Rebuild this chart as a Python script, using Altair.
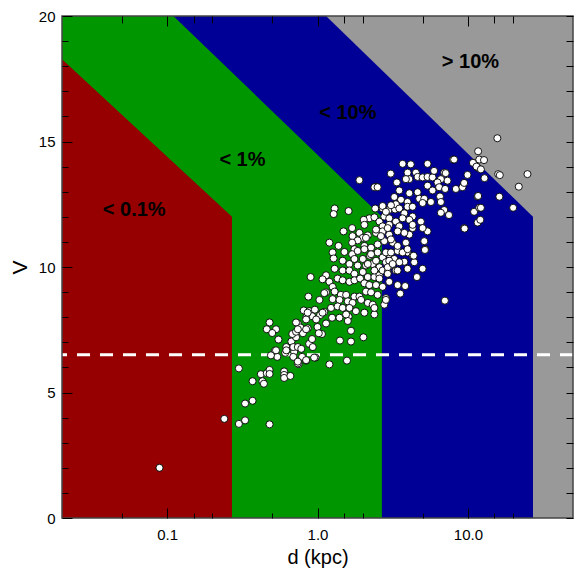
import altair as alt
import pandas as pd

# ---- axis domains / ticks ----
x_domain = [0.02, 50]
y_domain = [0, 20]
x_ticks = [0.05, 0.1, 0.15, 0.2, 0.5, 1, 1.5, 2, 5, 10, 15, 20]
y_ticks = list(range(0, 21))

# ---- region boundaries (upper edge, filled down to V=0) ----
gray_d = [0.02, 50]
gray_v = [20, 20]
blue_d = [0.02, 1.14, 27.1]
blue_v = [20, 20, 12]
green_d = [0.02, 0.11, 2.68]
green_v = [20, 20, 12]
red_d = [0.02, 0.27]
red_v = [18.28, 12]

# ---- region labels ----
label_text = ["< 0.1%", "< 1%", "< 10%", "> 10%"]
label_d = [0.0604, 0.317, 1.59, 10.4]
label_v = [12.28, 14.28, 16.13, 18.18]

limit_v = [6.5]

# ---- stars ----
star_d = [
    0.089,
    0.24, 0.30, 0.33, 0.48, 0.33, 0.37, 0.37, 0.43, 0.44, 0.42, 0.46, 0.48, 0.48, 0.30,
    0.60, 0.60, 0.60, 0.66, 1.20, 1.57, 0.75, 0.84, 0.97, 0.74, 0.52, 0.54, 0.49, 0.61,
    0.70, 0.69, 0.79, 0.84, 0.95, 0.74, 0.62, 0.67, 0.72, 0.69, 0.74, 0.78, 0.88, 0.92,
    0.93, 0.55, 0.68, 0.48, 0.46, 0.53, 0.50, 0.74, 0.77, 0.86, 0.80, 0.72, 1.00, 1.14,
    1.07, 1.02, 0.81, 0.88, 0.96, 0.92, 0.84, 1.11, 1.04, 1.23, 1.25, 0.87, 1.41, 1.67,
    2.02, 1.67, 1.61, 1.40, 0.62, 0.53, 1.59, 0.72, 0.84, 0.98,
    1.30, 1.28, 1.61, 2.42, 2.71, 2.97, 3.28, 2.21, 2.39, 2.03, 2.05, 2.58, 2.78, 3.00,
    3.32, 3.00, 2.71, 1.49, 1.70, 1.90, 2.00, 1.71, 1.85, 2.16, 2.45, 2.71, 3.00, 1.20,
    1.38, 1.70, 1.76, 2.05, 2.27, 2.51, 2.78, 3.16, 1.26, 1.28, 1.51, 1.70, 1.85, 2.00,
    2.23, 2.51, 2.71, 3.00, 3.41, 1.47, 1.63, 1.76, 1.85, 2.10, 2.33, 2.58, 2.85, 3.08,
    3.24, 1.30, 1.47, 1.63, 1.76, 2.00, 2.16, 2.39, 2.58, 2.71, 2.93, 0.90, 1.14, 1.08,
    1.20, 1.36, 1.47, 1.63, 1.76, 1.92, 2.05, 2.21, 2.45, 2.71, 3.00, 3.41, 1.26, 1.14,
    1.30, 1.43, 1.55, 1.76, 1.90, 2.10, 2.27, 2.51, 2.85, 1.03, 1.26, 1.40, 1.59, 1.71,
    1.95, 2.16, 2.33, 0.86, 1.08, 1.36, 1.47, 1.63, 1.80, 2.05, 2.39, 1.55, 0.74, 0.84,
    3.68, 4.17, 5.39, 7.98, 11.0, 11.6, 3.07, 3.97, 4.51, 4.63, 4.08, 3.87, 5.00, 5.39,
    5.82, 5.96, 6.96, 7.32, 6.61, 6.28, 9.94, 2.45, 1.90, 3.37, 5.39, 5.82, 6.44, 7.06,
    8.32, 9.20, 9.44, 3.50, 4.08, 4.63, 4.75, 5.13, 5.68, 5.00, 3.24, 3.59, 3.97, 3.32,
    3.08, 6.52, 6.61, 6.96, 7.49, 6.61, 11.6, 11.0, 11.9, 11.6, 2.71, 2.85, 3.50, 3.97,
    4.29, 3.78, 4.29, 4.08, 3.68, 4.87, 5.39, 5.00, 9.44, 5.13, 5.20, 4.29, 4.08, 3.78,
    4.29, 3.50, 3.41, 3.87, 3.97, 4.29, 4.40, 3.97, 3.78, 3.41, 3.50, 5.00, 2.93, 3.08,
    2.85, 3.00, 2.64, 2.45, 2.10, 2.05, 2.27, 2.45, 2.16, 2.39, 3.32, 15.7, 11.7, 11.9,
    12.8, 10.8, 11.4, 12.2, 8.10, 15.9, 16.3, 24.9, 12.9, 21.8, 11.7, 16.2, 12.2, 20.0,
    12.1, 9.51, 5.18, 4.36, 4.58, 3.83, 3.55, 7.03, 2.78, 2.85, 2.39, 2.51, 7.12, 1.11,
    3.08, 3.68, 3.97, 2.93, 3.16, 3.41, 2.93, 2.58, 2.39,
]
star_v = [
    2.00,
    3.95, 3.75, 3.89, 3.73, 4.56, 4.67, 5.45, 5.45, 5.35, 5.73, 5.77, 5.90, 5.74, 5.96,
    5.84, 5.70, 5.58, 5.66, 6.12, 6.27, 6.13, 6.27, 6.39, 6.16, 6.66, 6.42, 6.48, 6.58,
    6.62, 6.42, 6.42, 6.29, 6.39, 6.23, 6.81, 7.03, 7.20, 6.81, 6.81, 6.74, 6.94, 7.13,
    6.81, 7.11, 7.33, 7.79, 7.52, 7.52, 7.37, 7.75, 7.59, 7.56, 7.36, 7.42, 7.61, 7.75,
    7.33, 7.36, 8.27, 8.24, 8.30, 8.04, 7.98, 8.21, 8.08, 8.37, 7.98, 8.82, 7.07, 7.03,
    7.20, 7.46, 8.02, 7.98, 6.68, 6.68, 7.85, 7.79, 7.91, 7.91,
    12.33, 12.11, 12.23, 12.33, 12.33, 12.27, 12.29, 11.94, 11.98, 11.88, 11.68, 11.81, 12.01, 11.94,
    11.81, 11.68, 11.62, 11.42, 11.55, 11.36, 11.16, 11.23, 11.06, 11.26, 11.36, 11.42, 11.29, 10.97,
    10.84, 10.97, 10.71, 10.84, 10.77, 10.90, 11.03, 10.97, 10.58, 10.34, 10.60, 10.51, 10.64, 10.32,
    10.45, 10.58, 10.38, 10.51, 10.64, 10.25, 10.12, 10.32, 10.06, 10.06, 10.12, 9.99, 10.19, 10.06,
    10.32, 9.93, 9.86, 9.86, 9.73, 9.80, 9.60, 9.60, 9.67, 9.86, 9.80, 9.60, 9.67, 9.51,
    9.41, 9.54, 9.47, 9.41, 9.47, 9.54, 9.35, 9.28, 9.28, 9.21, 9.41, 9.28, 9.21, 8.99,
    9.02, 8.89, 8.89, 8.82, 8.82, 9.02, 8.99, 8.89, 8.76, 8.69, 8.72, 8.69, 8.63, 8.57,
    8.69, 8.57, 8.50, 8.18, 8.18, 8.43, 8.37, 8.37, 8.24, 8.18, 8.11, 8.11, 7.52, 7.52,
    14.11, 14.09, 14.11, 14.28, 14.15, 13.96, 13.72, 13.76, 13.76, 13.59, 13.50, 13.50, 13.57, 13.59,
    13.57, 13.83, 13.76, 13.44, 13.50, 13.37, 13.67, 13.20, 13.46, 13.37, 13.24, 13.05, 13.18, 13.11,
    13.11, 13.18, 13.35, 13.05, 12.94, 12.98, 12.72, 12.72, 12.59, 12.55, 12.79, 12.68, 12.59, 12.50,
    12.46, 12.81, 12.59, 12.27, 12.07, 12.16, 12.81, 12.20, 12.36, 11.77, 12.43, 12.20, 12.33, 12.40,
    12.40, 12.14, 12.01, 11.88, 11.94, 11.81, 11.42, 11.55, 11.55, 11.03, 10.71, 11.55, 11.29, 11.36,
    11.68, 11.62, 11.42, 10.97, 10.58, 10.45, 10.19, 9.93, 10.21, 10.84, 10.19, 9.93, 11.55, 11.10,
    10.58, 10.25, 11.23, 11.49, 11.16, 10.71, 10.51, 10.25, 10.12, 9.86, 9.86, 15.13, 14.61, 14.28,
    14.26, 14.15, 14.00, 13.89, 14.28, 13.70, 13.66, 13.70, 13.54, 13.20, 12.83, 12.80, 12.36, 12.36,
    11.88, 11.53, 10.68, 10.45, 9.60, 9.24, 8.94, 8.66, 8.50, 8.69, 13.18, 13.18, 13.74, 8.96,
    10.58, 10.58, 10.71, 9.99, 10.12, 9.86, 9.73, 9.54, 8.37,
]

FONT = "Liberation Sans"
xscale = alt.Scale(type="log", domain=x_domain, nice=False)
yscale = alt.Scale(domain=y_domain, nice=False, zero=False)

x_major = "datum.value == 0.1 || datum.value == 1 || datum.value == 10"
y_major = "datum.value % 5 == 0"

axis_bottom = alt.Axis(
    orient="bottom", values=x_ticks, offset=-10, tickSize=10, domain=False, grid=False,
    tickColor="black", tickWidth=1,
    tickDash={"condition": {"test": x_major, "value": [10, 0]}, "value": [0, 5, 5, 0]},
    labelExpr="datum.value == 0.1 ? '0.1' : datum.value == 1 ? '1.0' : datum.value == 10 ? '10.0' : ''",
    labelFont=FONT, labelFontSize=15, labelColor="black", labelPadding=9,
    labelOverlap=False, labelFlush=False,
    title="d (kpc)", titleFont=FONT, titleFontSize=20, titleFontWeight="normal",
    titleColor="black", titlePadding=5, zindex=1,
)
axis_left = alt.Axis(
    orient="left", values=y_ticks, offset=-10, tickSize=10, domain=False, grid=False,
    tickColor="black", tickWidth=1,
    tickDash={"condition": {"test": y_major, "value": [10, 0]}, "value": [0, 4, 6, 0]},
    labelExpr="datum.value % 5 == 0 ? datum.label : ''",
    labelFont=FONT, labelFontSize=15, labelColor="black", labelPadding=7,
    labelOverlap=False, labelFlush=False,
    title="V", titleFont=FONT, titleFontSize=21, titleFontWeight="normal",
    titleColor="black", titlePadding=8, zindex=1,
)
axis_top = alt.Axis(
    orient="top", values=x_ticks, offset=-10, tickSize=10, domain=False, grid=False,
    tickColor="black", tickWidth=1, labels=False, title=None,
    tickDash={"condition": {"test": x_major, "value": [10, 0]}, "value": [0, 3, 7, 0]},
    zindex=1,
)
axis_right = alt.Axis(
    orient="right", values=y_ticks, offset=-7, tickSize=7, domain=False, grid=False,
    tickColor="black", tickWidth=1, labels=False, title=None, zindex=1,
)


def region(ds, vs, color, xaxis=None, yaxis=None):
    df = pd.DataFrame({"d": ds, "v": vs, "v0": [0] * len(ds)})
    return alt.Chart(df).mark_area(color=color, opacity=1, interpolate="linear").encode(
        x=alt.X("d:Q", scale=xscale, axis=xaxis),
        y=alt.Y("v:Q", scale=yscale, axis=yaxis),
        y2="v0:Q",
    )


gray = region(gray_d, gray_v, "#999999", axis_bottom, axis_left)
blue = region(blue_d, blue_v, "#000096")
green = region(green_d, green_v, "#009600")
red = region(red_d, red_v, "#960000")

rule = alt.Chart(pd.DataFrame({"v": limit_v})).mark_rule(
    color="white", strokeWidth=3, strokeDash=[13, 10]
).encode(y=alt.Y("v:Q", scale=yscale, axis=None))

stars = alt.Chart(pd.DataFrame({"d": star_d, "v": star_v})).mark_circle(
    size=50, color="white", opacity=1, stroke="black", strokeWidth=0.9
).encode(
    x=alt.X("d:Q", scale=xscale, axis=axis_top),
    y=alt.Y("v:Q", scale=yscale, axis=axis_right),
)

labels = alt.Chart(pd.DataFrame({"d": label_d, "v": label_v, "t": label_text})).mark_text(
    font=FONT, fontSize=20, fontWeight="bold", color="black", align="center", baseline="middle"
).encode(
    x=alt.X("d:Q", scale=xscale, axis=None),
    y=alt.Y("v:Q", scale=yscale, axis=None),
    text="t:N",
)

frame = alt.Chart(pd.DataFrame({"x1": [x_domain[0]], "x2": [x_domain[1]],
                                "y1": [y_domain[0]], "y2": [y_domain[1]]})).mark_rect(
    fillOpacity=0, stroke="#444444", strokeWidth=1.5
).encode(
    x=alt.X("x1:Q", scale=xscale, axis=None), x2="x2:Q",
    y=alt.Y("y1:Q", scale=yscale, axis=None), y2="y2:Q",
)

chart = alt.layer(gray, blue, green, red, rule, stars, labels, frame).resolve_axis(
    x="independent", y="independent"
).properties(
    width=511, height=502,
    autosize=alt.AutoSizeParams(type="none"),
    padding={"left": 54, "top": 8, "right": 1, "bottom": 53},
).configure_view(stroke=None)

chart.save("out.html", embed_options={"renderer": "svg", "actions": False})
